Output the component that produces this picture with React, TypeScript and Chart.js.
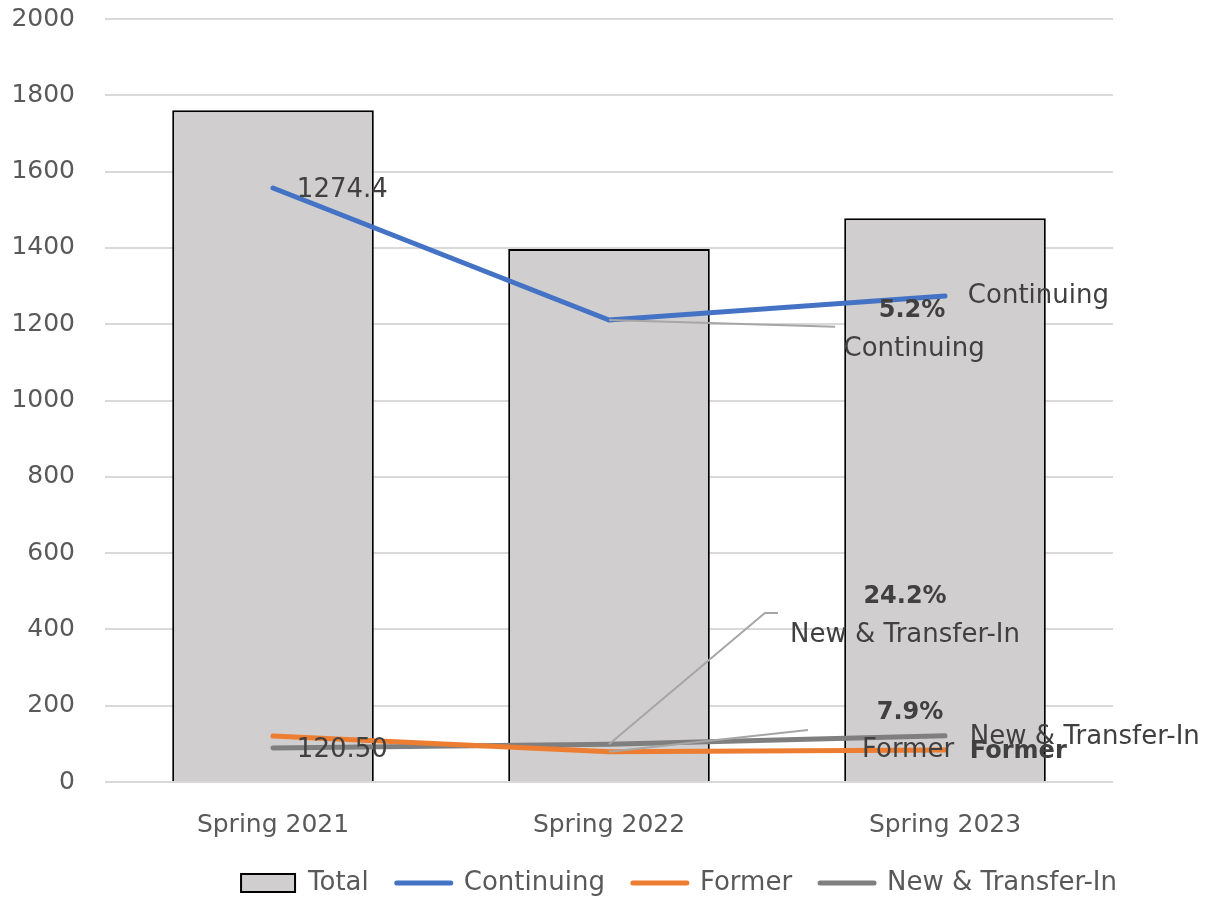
import React, { useEffect, useRef } from "react";
import { Chart, registerables } from "chart.js";

Chart.register(...registerables);

const categories = ["Spring 2021", "Spring 2022", "Spring 2023"];
const total = [1761, 1397, 1478];
const continuing = [1557, 1211, 1274];
const former = [120.5, 79, 84];
const newTransfer = [89, 99, 121];
const yTicks = [0, 200, 400, 600, 800, 1000, 1200, 1400, 1600, 1800, 2000];

const FONT = "'DejaVu Sans', 'Open Sans', sans-serif";
const AXIS_COLOR = "#595959";
const LABEL_COLOR = "#404040";

// Annotation anchors in data units (category index, value)
const annotations = [
  { text: "1274.4", x: 0.071, y: 1552, align: "left", bold: false },
  { text: "120.50", x: 0.071, y: 84, align: "left", bold: false },
  { text: "5.2%", x: 1.902, y: 1235, align: "center", bold: true },
  { text: "Continuing", x: 1.908, y: 1135, align: "center", bold: false },
  { text: "Continuing", x: 2.068, y: 1272, align: "left", bold: false },
  { text: "24.2%", x: 1.881, y: 485, align: "center", bold: true },
  { text: "New & Transfer-In", x: 1.881, y: 385, align: "center", bold: false },
  { text: "7.9%", x: 1.896, y: 181, align: "center", bold: true },
  { text: "Former", x: 1.89, y: 84, align: "center", bold: false },
  { text: "New & Transfer-In", x: 2.074, y: 118, align: "left", bold: false },
  { text: "Former", x: 2.074, y: 79, align: "left", bold: true },
];

const leaders = [
  [[1, continuing[1]], [1.673, 1193]],
  [[1, newTransfer[1]], [1.464, 443], [1.503, 443]],
  [[1, former[1]], [1.592, 136]],
];

const annotationPlugin = {
  id: "annotationPlugin",
  afterDatasetsDraw(chart: any) {
    const { ctx } = chart;
    const xs = chart.scales.x;
    const ys = chart.scales.y;
    const p0 = xs.getPixelForValue(0);
    const p1 = xs.getPixelForValue(1);
    const px = (v: number) => p0 + (p1 - p0) * v;
    const py = (v: number) => ys.getPixelForValue(v);
    ctx.save();
    ctx.strokeStyle = "#a6a6a6";
    ctx.lineWidth = 2;
    leaders.forEach((pts) => {
      ctx.beginPath();
      pts.forEach((p, i) => {
        if (i === 0) ctx.moveTo(px(p[0]), py(p[1]));
        else ctx.lineTo(px(p[0]), py(p[1]));
      });
      ctx.stroke();
    });
    ctx.fillStyle = LABEL_COLOR;
    ctx.textBaseline = "middle";
    annotations.forEach((a) => {
      ctx.font = a.bold ? `bold 24px ${FONT}` : `26px ${FONT}`;
      ctx.textAlign = a.align as CanvasTextAlign;
      ctx.fillText(a.text, px(a.x), py(a.y));
    });
    ctx.restore();
  },
};

export default function App() {
  const ref = useRef<HTMLCanvasElement>(null);
  useEffect(() => {
    if (!ref.current) return;
    const chart = new Chart(ref.current, {
      type: "bar",
      data: {
        labels: categories,
        datasets: [
          {
            type: "bar",
            label: "Total",
            data: total,
            backgroundColor: "#d0cece",
            borderColor: "#000000",
            borderWidth: 2,
            barPercentage: 0.6,
            categoryPercentage: 1,
            order: 1,
          },
          {
            type: "line",
            label: "Continuing",
            data: continuing,
            borderColor: "#4472c4",
            backgroundColor: "#4472c4",
            borderWidth: 5,
            pointRadius: 0,
            borderCapStyle: "round",
            tension: 0,
            order: 0,
          },
          {
            type: "line",
            label: "Former",
            data: former,
            borderColor: "#ed7d31",
            backgroundColor: "#ed7d31",
            borderWidth: 5,
            pointRadius: 0,
            borderCapStyle: "round",
            tension: 0,
            order: 0,
          },
          {
            type: "line",
            label: "New & Transfer-In",
            data: newTransfer,
            borderColor: "#7f7f7f",
            backgroundColor: "#7f7f7f",
            borderWidth: 5,
            pointRadius: 0,
            borderCapStyle: "round",
            tension: 0,
            order: 0,
          },
        ] as any,
      },
      options: {
        responsive: false,
        animation: false,
        devicePixelRatio: 1,
        layout: { padding: { top: 19, left: 0, right: 64, bottom: -5 } },
        scales: {
          x: {
            grid: { display: false, drawTicks: false },
            border: { display: false },
            ticks: { color: AXIS_COLOR, font: { family: FONT, size: 25 }, padding: 28 },
            afterFit: (s: any) => {
              s.height = 60;
              s.paddingLeft = 0;
              s.paddingRight = 0;
            },
          },
          y: {
            min: 0,
            max: 2000,
            afterBuildTicks: (s: any) => {
              s.ticks = yTicks.map((v) => ({ value: v }));
            },
            grid: { color: "#d9d9d9", lineWidth: 2, drawTicks: false },
            border: { display: false },
            ticks: {
              color: AXIS_COLOR,
              font: { family: FONT, size: 25 },
              padding: 30,
              callback: (v: any) => String(v),
            },
            afterFit: (s: any) => {
              s.width = 105;
              s.paddingTop = 0;
              s.paddingBottom = 0;
            },
          },
          y2: {
            type: "linear",
            position: "right",
            display: true,
            grid: { display: false, drawTicks: false },
            border: { display: false },
            ticks: { display: false },
            afterFit: (s: any) => {
              s.width = 32;
              s.paddingTop = 0;
              s.paddingBottom = 0;
            },
          },
        },
        plugins: {
          tooltip: { enabled: false },
          legend: {
            position: "bottom",
            align: "end",
            labels: {
              usePointStyle: true,
              pointStyleWidth: 54,
              boxHeight: 18,
              padding: 28,
              color: AXIS_COLOR,
              font: { family: FONT, size: 26 },
              generateLabels: (c: any) =>
                c.data.datasets.map((ds: any, i: number) => ({
                  text: ds.label,
                  datasetIndex: i,
                  hidden: false,
                  fillStyle: ds.backgroundColor,
                  strokeStyle: ds.borderColor,
                  lineWidth: i === 0 ? 2 : 5,
                  lineCap: "round",
                  pointStyle: i === 0 ? "rect" : "line",
                  fontColor: AXIS_COLOR,
                })),
            },
          },
        },
      } as any,
      plugins: [annotationPlugin],
    });
    return () => chart.destroy();
  }, []);
  return (
    <div style={{ position: "absolute", left: 0, top: 0, width: 1209, height: 901, background: "#fff" }}>
      <canvas ref={ref} width={1209} height={901} style={{ display: "block" }} />
    </div>
  );
}
